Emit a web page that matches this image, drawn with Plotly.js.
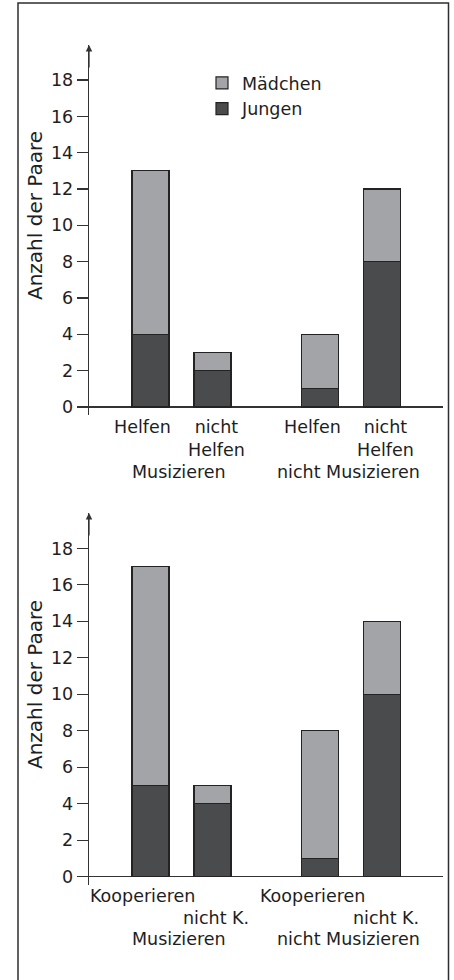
<!DOCTYPE html>
<html>
<head>
<meta charset="utf-8">
<script src="https://cdn.plot.ly/plotly-3.0.1.min.js"></script>
<style>
  html, body { margin: 0; padding: 0; background: #ffffff; }
  #chart { width: 454px; height: 980px; }
</style>
</head>
<body>
<div id="chart"></div>
<script>
// ---------- data ----------
const categoriesTop = ['Helfen', 'nicht<br>Helfen', 'Helfen', 'nicht<br>Helfen'];
const categoriesBottom = ['Kooperieren', 'nicht K.', 'Kooperieren', 'nicht K.'];
const groupLabels = ['Musizieren', 'nicht Musizieren'];
const groupOfCategory = [0, 0, 1, 1];
const jungenTop = [4, 2, 1, 8];
const maedchenTop = [9, 1, 3, 4];
const jungenBottom = [5, 4, 1, 10];
const maedchenBottom = [12, 1, 7, 4];
const yTickValues = [0, 2, 4, 6, 8, 10, 12, 14, 16, 18];
const seriesNames = ['Jungen', 'Mädchen'];
const yTitle = 'Anzahl der Paare';

// ---------- layout constants ----------
const FONT = 'DejaVu Sans, Arial, sans-serif';
const TXT = '#1e1e1e';
const AX = '#333333';
const DARK = '#4a4b4d';
const LIGHT = '#a3a4a7';
const EDGE = '#232323';
const GROUP_STEP = 2.734;
const BAR_W = 0.597;
const XRANGE = [-0.992, 4.718];

function xPos(i) {
  return groupOfCategory[i] * GROUP_STEP + (i % 2);
}
const xs = categoriesTop.map((_, i) => xPos(i));

function barTrace(name, vals, color, xa, ya, showLeg) {
  return {
    type: 'bar', name: name, x: xs, y: vals, xaxis: xa, yaxis: ya,
    width: BAR_W, showlegend: showLeg, hoverinfo: 'skip',
    marker: { color: color, line: { color: EDGE, width: 1.2 } }
  };
}

const traces = [
  barTrace(seriesNames[0], jungenTop, DARK, 'x', 'y', true),
  barTrace(seriesNames[1], maedchenTop, LIGHT, 'x', 'y', true),
  barTrace(seriesNames[0], jungenBottom, DARK, 'x2', 'y2', false),
  barTrace(seriesNames[1], maedchenBottom, LIGHT, 'x2', 'y2', false)
];

function yAxis(domain, range, anchor) {
  return {
    domain: domain, range: range, anchor: anchor,
    tickmode: 'array', tickvals: yTickValues,
    ticks: 'outside', ticklen: 11, tickwidth: 1.2, tickcolor: AX,
    showline: true, linecolor: AX, linewidth: 1.3,
    zeroline: true, zerolinecolor: AX, zerolinewidth: 1.3,
    showgrid: false, fixedrange: true,
    tickfont: { family: FONT, size: 17.5, color: TXT }
  };
}
function xAxis(anchor) {
  return {
    range: XRANGE, anchor: anchor, showline: false, showgrid: false,
    zeroline: false, showticklabels: false, ticks: '', fixedrange: true
  };
}

const TOP_DOM = [1 - 415 / 980, 1 - 45 / 980];
const BOT_DOM = [1 - 885 / 980, 1 - 513 / 980];

const annotations = [];
const subShift = [-8, 3.5];
function addLabels(cats, xa, ya, rowShifts, staggered, groupShift, titleY) {
  cats.forEach((c, i) => {
    const row = staggered ? (i % 2) : 0;
    annotations.push({
      text: c, xref: xa, yref: ya, x: xPos(i), y: 0,
      xanchor: 'center', yanchor: 'top', showarrow: false,
      xshift: subShift[i % 2], yshift: rowShifts[row],
      font: { family: FONT, size: 17.5, color: TXT }
    });
  });
  groupLabels.forEach((g, gi) => {
    annotations.push({
      text: g, xref: xa, yref: ya, x: gi * GROUP_STEP + 0.5, y: 0,
      xanchor: 'center', yanchor: 'top', showarrow: false,
      xshift: -3, yshift: groupShift,
      font: { family: FONT, size: 17.5, color: TXT }
    });
  });
  annotations.push({
    text: yTitle, textangle: -90, xref: 'paper', yref: 'paper',
    x: (35 - 89) / 354, y: titleY, xanchor: 'center', yanchor: 'middle',
    showarrow: false, font: { family: FONT, size: 20, color: TXT }
  });
}
addLabels(categoriesTop, 'x', 'y', [-8, -8], false, -52.5, 1 - 216 / 980);
addLabels(categoriesBottom, 'x2', 'y2', [-7.7, -29.4], true, -50.7, 1 - 685 / 980);

// axis arrows
[TOP_DOM[1], BOT_DOM[1]].forEach(yt => {
  annotations.push({
    text: '', xref: 'paper', yref: 'paper', x: 0, y: yt,
    showarrow: true, ax: 0, ay: 24, arrowhead: 2, arrowsize: 1,
    arrowwidth: 1.3, arrowcolor: AX
  });
});

const layout = {
  width: 454, height: 980,
  margin: { l: 89, r: 11, t: 0, b: 0, pad: 0 },
  paper_bgcolor: '#ffffff', plot_bgcolor: 'rgba(0,0,0,0)',
  barmode: 'stack',
  font: { family: FONT, color: TXT },
  xaxis: xAxis('y'),
  yaxis: yAxis(TOP_DOM, [-0.44, 19.93], 'x'),
  xaxis2: xAxis('y2'),
  yaxis2: yAxis(BOT_DOM, [-0.455, 19.94], 'x2'),
  showlegend: true,
  legend: {
    x: (202 - 89) / 354, y: 1 - 65 / 980, xanchor: 'left', yanchor: 'top',
    traceorder: 'reversed', bgcolor: 'rgba(0,0,0,0)', borderwidth: 0,
    font: { family: FONT, size: 17.5, color: TXT }
  },
  annotations: annotations,
  shapes: [{
    type: 'rect', xref: 'paper', yref: 'paper',
    x0: (18 - 89) / 354, x1: (448.5 - 89) / 354, y0: -0.01, y1: 1 - 3 / 980,
    line: { color: '#2e2e2e', width: 1.5 }, fillcolor: 'rgba(0,0,0,0)'
  }]
};

Plotly.newPlot('chart', traces, layout, { displayModeBar: false, staticPlot: true });
</script>
</body>
</html>
